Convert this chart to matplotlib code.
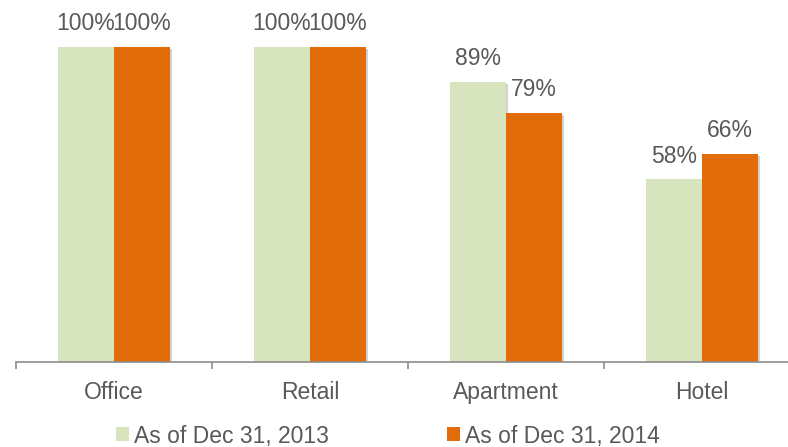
import matplotlib.pyplot as plt
from matplotlib import patheffects
from matplotlib.patches import Patch

plt.rcParams['font.family'] = ['Liberation Sans', 'DejaVu Sans']

# Occupancy by property type
categories = ['Office', 'Retail', 'Apartment', 'Hotel']
occ_2013 = [100, 100, 89, 58]
occ_2014 = [100, 100, 79, 66]
series_names = ['As of Dec 31, 2013', 'As of Dec 31, 2014']

green = '#D7E4BD'
orange = '#E36C0A'
text_gray = '#595959'
axis_gray = '#8C8C8C'
fs = 16.5

fig = plt.figure(figsize=(7.88, 4.47), dpi=100)
ax = fig.add_axes([16 / 788, 85 / 447, 772 / 788, 315 / 447])

x = list(range(len(categories)))
width = 56 / 196
shadow = [patheffects.SimplePatchShadow(offset=(1.5, -1.5), shadow_rgbFace='#808080', alpha=0.35),
          patheffects.Normal()]

bars_a = ax.bar([i - width / 2 for i in x], occ_2013, width, color=green, zorder=2)
bars_b = ax.bar([i + width / 2 for i in x], occ_2014, width, color=orange, zorder=2)
for b in list(bars_a) + list(bars_b):
    b.set_path_effects(shadow)

# value labels above each bar
for bars, vals in ((bars_a, occ_2013), (bars_b, occ_2014)):
    for b, v in zip(bars, vals):
        ax.annotate(f'{v}%', (b.get_x() + b.get_width() / 2, v),
                    xytext=(0, 12), textcoords='offset points',
                    ha='center', va='baseline', fontsize=fs,
                    color=text_gray, annotation_clip=False)

for s in ('top', 'right', 'left'):
    ax.spines[s].set_visible(False)
ax.spines['bottom'].set_color(axis_gray)
ax.spines['bottom'].set_linewidth(1.2)
ax.set_yticks([])

ax.set_xticks(x)
ax.set_xticklabels(categories, fontsize=fs, color=text_gray)
ax.tick_params(axis='x', which='major', length=0, pad=14)
ax.set_xticks([i - 0.5 for i in range(len(categories) + 1)], minor=True)
ax.tick_params(axis='x', which='minor', length=5, width=1.2, color=axis_gray)

# limits go last so the boundary ticks don't widen the view
ax.set_ylim(0, 100)
ax.set_xlim(-0.5, -0.5 + 772 / 196)

# one legend entry per series, placed side by side
for name, col, x0 in ((series_names[0], green, 116), (series_names[1], orange, 447)):
    fig.legend([Patch(facecolor=col)], [name], loc='center left',
               bbox_to_anchor=(x0 / 788, 11 / 447), frameon=False, fontsize=fs,
               labelcolor=text_gray, borderpad=0, borderaxespad=0,
               handlelength=0.55, handleheight=0.57, handletextpad=0.22)

fig.savefig('out.png', dpi=100)
